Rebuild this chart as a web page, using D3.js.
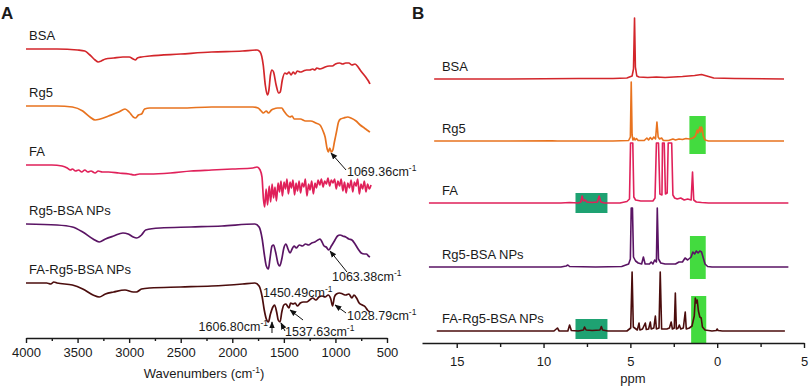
<!DOCTYPE html>
<html><head><meta charset="utf-8">
<script src="https://cdn.jsdelivr.net/npm/d3@7"></script>
<style>body{margin:0;background:#fff}svg{display:block}text{font-family:"Liberation Sans",Arial,sans-serif;fill:#1a1a1a}</style>
</head><body><svg id="c" width="810" height="386"></svg>
<script>
// ---------- Panel A : FT-IR (wavenumber cm-1, relative transmittance a.u.) ----------
const irNames = ["BSA","Rg5","FA","Rg5-BSA NPs","FA-Rg5-BSA NPs"];
const irColors = ["#d3262b","#e8731f","#e0215a","#5a1464","#4b0d0d"];
const irOffsets = [289,232,173,114,55];
const irTicks = [4000,3500,3000,2500,2000,1500,1000,500];
const irMinor = [3750,3250,2750,2250,1750,1250,750];

const irBSA = [[4000,0],[3700,0],[3500,-1],[3430,-2],[3380,-6],[3330,-11],[3300,-13],[3270,-12],[3230,-10],[3150,-9],[3060,-8],[3000,-8],[2960,-10],[2940,-11],[2920,-9],[2880,-8],[2800,-7],[2500,-5],[2200,-3],[1900,-2],[1760,-1],[1730,-3],[1700,-16],[1680,-36],[1660,-46],[1645,-41],[1630,-26],[1615,-21],[1600,-23],[1575,-36],[1550,-44],[1535,-43],[1515,-31],[1490,-24],[1470,-25],[1450,-23],[1430,-26],[1410,-23],[1390,-25],[1370,-22],[1340,-23],[1310,-22],[1280,-21],[1250,-21],[1220,-20],[1200,-21],[1180,-19],[1150,-20],[1120,-19],[1100,-18],[1060,-17],[1030,-17],[1000,-15],[960,-14],[930,-15],[900,-14],[870,-14],[840,-16],[810,-15],[780,-18],[760,-21],[730,-25],[700,-29],[680,-32],[665,-35]];
const irRg5 = [[4000,0],[3700,0],[3550,-1],[3450,-5],[3380,-11],[3330,-14],[3280,-13],[3200,-10],[3100,-6],[3040,-3],[3000,-6],[2960,-11],[2940,-12],[2910,-9],[2880,-8],[2850,-3],[2800,-2],[2500,-2],[2200,-1],[1800,-1],[1750,-2],[1720,-5],[1700,-7],[1670,-5],[1650,-7],[1620,-4],[1600,-3],[1560,-2],[1520,-2],[1500,-5],[1470,-9],[1440,-11],[1420,-10],[1400,-13],[1340,-13],[1290,-15],[1240,-15],[1190,-17],[1150,-19],[1120,-25],[1100,-31],[1080,-43],[1069,-46],[1055,-42],[1040,-46],[1025,-44],[1010,-36],[990,-26],[970,-16],[950,-13],[920,-12],[880,-11],[850,-12],[800,-15],[760,-19],[720,-22],[680,-25],[665,-26]];
const irFA = [[4000,0],[3750,0],[3650,-1],[3600,-3],[3570,-5],[3550,-4],[3520,-6],[3490,-5],[3460,-7],[3430,-5],[3400,-7],[3370,-6],[3330,-8],[3300,-6],[3260,-7],[3200,-7],[3100,-8],[3000,-9],[2950,-10],[2900,-9],[2800,-9],[2600,-8],[2400,-6],[2200,-5],[2000,-4],[1800,-3],[1760,-2],[1730,-5],
 [1712,-12],[1698,-34],[1686,-42],[1672,-24],[1658,-40],[1642,-21],[1628,-37],[1614,-19],[1600,-33],[1586,-22],[1572,-36],[1556,-18],[1542,-27],[1528,-16],[1514,-31],[1498,-17],[1484,-24],[1470,-14],[1456,-29],[1440,-17],[1426,-23],[1412,-15],[1396,-30],[1382,-18],[1368,-26],[1352,-16],[1338,-28],[1322,-18],[1306,-22],[1292,-14],[1276,-31],[1260,-19],[1246,-25],[1230,-16],[1214,-29],[1198,-18],[1184,-23],[1168,-15],[1152,-20],[1136,-14],[1120,-22],[1104,-16],[1088,-19],[1072,-13],[1056,-21],[1040,-15],[1024,-18],[1008,-14],[992,-24],[976,-16],[960,-21],[944,-14],[928,-26],[912,-17],[896,-28],[880,-18],[864,-23],[848,-15],[832,-27],[816,-17],[800,-21],[784,-14],[768,-29],[752,-19],[736,-24],[720,-16],[704,-27],[688,-19],[672,-24],[655,-20]];
const irRg5BSA = [[4000,0],[3700,-1],[3550,-3],[3450,-8],[3350,-15],[3290,-18],[3230,-15],[3150,-12],[3060,-9],[3010,-10],[2960,-13],[2930,-14],[2880,-11],[2840,-6],[2700,-4],[2400,-3],[2100,-2],[1780,0],[1740,-3],[1710,-15],[1690,-30],[1670,-42],[1650,-45],[1635,-35],[1615,-22],[1600,-21],[1580,-28],[1555,-40],[1540,-42],[1520,-35],[1500,-24],[1480,-20],[1460,-25],[1440,-29],[1420,-25],[1400,-22],[1380,-24],[1350,-21],[1320,-22],[1290,-20],[1260,-21],[1230,-19],[1200,-18],[1170,-16],[1150,-15],[1130,-18],[1110,-22],[1090,-23],[1063,-26],[1040,-22],[1010,-17],[980,-12],[955,-11],[930,-12],[900,-13],[870,-15],[840,-16],[810,-20],[780,-25],[750,-29],[720,-30],[700,-30],[680,-32],[665,-33]];
const irFARg5BSA = [[4000,0],[3800,0],[3760,-1],[3730,1],[3700,0],[3550,-2],[3450,-6],[3350,-12],[3290,-14],[3230,-11],[3150,-9],[3040,-7],[2960,-9],[2930,-9],[2880,-6],[2800,-5],[2500,-4],[2200,-3],[1900,-1],[1780,0],[1740,-3],[1710,-14],[1690,-27],[1670,-36],[1650,-39],[1630,-31],[1606,-24],[1590,-22],[1570,-29],[1555,-37],[1537,-39],[1520,-29],[1500,-22],[1480,-21],[1460,-24],[1450,-25],[1435,-20],[1410,-21],[1390,-20],[1370,-23],[1340,-20],[1310,-19],[1280,-19],[1250,-17],[1220,-15],[1190,-17],[1160,-14],[1130,-13],[1100,-14],[1070,-12],[1045,-16],[1028,-23],[1010,-14],[990,-11],[960,-10],[930,-11],[900,-12],[870,-11],[840,-15],[820,-12],[790,-16],[770,-20],[740,-22],[710,-24],[690,-27],[665,-29]];
const irSeries = [irBSA, irRg5, irFA, irRg5BSA, irFARg5BSA];

// annotation arrows: head/tail/text in [wavenumber, a.u.]
const irNotes = [
  {label:"1069.36", head:[1043,185], tail:[897,168], text:[888,162], anchor:"start"},
  {label:"1063.38", head:[1052,87],  tail:[888,66],  text:[1033,57], anchor:"start"},
  {label:"1450.49", head:[1440,28],  tail:[1314,18], text:[1702,41], anchor:"start"},
  {label:"1606.80", head:[1615,16],  tail:[1615,5],  text:[1654,7],  anchor:"end"},
  {label:"1537.63", head:[1528,15],  tail:[1489,7],  text:[1489,2],  anchor:"start"},
  {label:"1028.79", head:[1004,33],  tail:[897,25],  text:[888,18],  anchor:"start"}
];

// ---------- Panel B : 1H NMR (ppm, relative intensity a.u.) ----------
const nmrNames = ["BSA","Rg5","FA","Rg5-BSA NPs","FA-Rg5-BSA NPs"];
const nmrColors = ["#d3262b","#e8731f","#e0215a","#5a1464","#4b0d0d"];
const nmrOffsets = [264,202,140,76,12];
const nmrTicks = [15,10,5,0,-5];
const nmrMinor = [12.5,7.5,2.5,-2.5];

const nmrBSA = [[16.3,0],[12,0],[8,0.5],[6,0.5],[5.2,1],[4.9,3],[4.82,10],[4.76,61],[4.71,12],[4.63,3],[4.5,2],[4.0,1.5],[3.5,2],[3.0,1.5],[2.0,2.5],[1.3,3.5],[0.9,4.5],[0.6,3],[0.2,1],[-1,0.5],[-3.85,0]];
const nmrRg5 = [[16.3,0],[12,0],[9.5,0.3],[9.2,0],[6,0],[5.1,0.5],[5.0,4],[4.95,59],[4.9,6],[4.85,1],[4.78,3],[4.73,1],[4.65,2.5],[4.55,0.5],[4.2,0.5],[4.05,3],[3.95,1],[3.85,3.5],[3.75,1.5],[3.65,4],[3.55,2],[3.47,19],[3.4,4],[3.32,2],[3.2,3],[3.1,0.5],[2.8,0.5],[2.55,2],[2.4,1],[2.2,2],[2.0,1.5],[1.8,2.5],[1.6,2],[1.4,3],[1.25,5],[1.15,11],[1.1,8],[1.0,14],[0.95,9],[0.9,14],[0.85,11],[0.8,5],[0.7,1],[0.5,0],[-3.85,0]];
const nmrFA = [[16.6,0],[12,0],[9,0],[8.5,0.5],[8.0,0],[7.85,1],[7.78,7],[7.7,2],[7.6,3],[7.5,1],[7.2,0.5],[6.9,1],[6.8,7],[6.7,1],[6.5,0],[5.6,0],[5.2,1.5],[5.05,4],[4.99,60],[4.86,60],[4.8,6],[4.7,3],[4.4,2],[4.0,2],[3.7,2],[3.58,5],[3.5,60],[3.38,60],[3.3,9],[3.18,8],[3.15,60],[3.05,60],[2.98,9],[2.88,10],[2.82,60],[2.62,60],[2.55,8],[2.45,5],[2.3,4],[2.1,5],[1.9,3],[1.7,4],[1.5,3],[1.42,31],[1.35,3],[1.2,1],[0.9,0.5],[0.5,0],[-4.1,0]];
const nmrRg5BSA = [[16.6,0],[12,0],[9,0],[8.7,1],[8.6,2],[8.5,0.5],[7,0],[5.5,0.5],[5.1,3],[5.0,8],[4.95,59],[4.88,59],[4.82,10],[4.7,6],[4.55,4],[4.35,3],[4.25,10],[4.15,3],[3.9,3],[3.8,5],[3.7,3],[3.6,7],[3.5,5],[3.45,59],[3.38,8],[3.25,4],[3.0,3],[2.7,3],[2.4,3],[2.2,5],[2.0,5],[1.85,9],[1.7,7],[1.5,10],[1.4,15],[1.3,13],[1.2,16],[1.1,14],[1.0,16],[0.9,15],[0.8,9],[0.7,3],[0.55,0.5],[0.3,0],[-4.1,0]];
const nmrFARg5BSA = [[16.15,0],[12,0],[9.4,0],[9.2,3],[9.1,0],[8.6,0],[8.5,6],[8.4,0.5],[8.0,0],[7.7,1],[7.64,4],[7.55,1],[7.2,0.5],[6.75,1],[6.67,4.5],[6.6,1],[6.3,0],[5.2,0],[4.98,3],[4.9,59],[4.83,4],[4.6,1],[4.5,8],[4.45,1],[4.3,2],[4.14,8],[4.08,1.5],[3.95,2],[3.85,9],[3.8,2],[3.65,3],[3.56,15],[3.5,2],[3.35,3],[3.28,59],[3.2,2],[2.9,2],[2.75,3],[2.65,9],[2.58,2],[2.47,3],[2.41,38],[2.35,2],[2.25,3],[2.18,6],[2.1,2],[1.95,3],[1.84,19],[1.78,2],[1.6,3],[1.45,5],[1.32,15],[1.26,33],[1.2,28],[1.15,31],[1.08,20],[1.0,14],[0.92,13],[0.85,4],[0.7,1],[0.3,0],[0.05,0.5],[0,2],[-0.05,0.5],[-0.3,0],[-3.9,0]];
const nmrSeries = [nmrBSA, nmrRg5, nmrFA, nmrRg5BSA, nmrFARg5BSA];

// highlighted regions: series index, ppm range, a.u. range relative to trace, kind
const nmrBoxes = [
  {s:1, from:1.6, to:0.66, lo:-13, hi:25, kind:"light"},
  {s:2, from:8.16, to:6.32, lo:-10, hi:10, kind:"dark"},
  {s:3, from:1.57, to:0.66, lo:-12, hi:31, kind:"light"},
  {s:4, from:8.16, to:6.32, lo:-8, hi:12, kind:"dark"},
  {s:4, from:1.5, to:0.63, lo:-12, hi:35, kind:"light"}
];
const boxColors = {light:"#43db3f", dark:"#1ea272"};

// ---------- drawing ----------
const svg = d3.select("#c");
svg.append("rect").attr("width",810).attr("height",386).attr("fill","#fff");

svg.append("defs").append("marker").attr("id","ah").attr("viewBox","0 0 10 10")
  .attr("refX",9).attr("refY",5).attr("markerWidth",7).attr("markerHeight",7)
  .attr("orient","auto-start-reverse").attr("markerUnits","userSpaceOnUse")
  .append("path").attr("d","M0,1 L10,5 L0,9 z").attr("fill","#111");

// Panel A
const xA = d3.scaleLinear().domain([4000,500]).range([26,387]);
const yA = d3.scaleLinear().domain([0,330]).range([338,8]);
const gA = svg.append("g");
const axA = gA.append("g").attr("transform","translate(0,338)")
  .call(d3.axisBottom(xA).tickValues(irTicks).tickSize(5).tickSizeOuter(0).tickPadding(5).tickFormat(d3.format("d")));
gA.append("g").attr("transform","translate(0,338)")
  .call(d3.axisBottom(xA).tickValues(irMinor).tickSize(3).tickFormat("").tickSizeOuter(0))
  .select(".domain").remove();
axA.selectAll("text").attr("font-size",13).attr("font-family","Liberation Sans, Arial").attr("fill","#1a1a1a");
gA.selectAll(".domain,.tick line").attr("stroke","#1a1a1a").attr("stroke-width",1.4);
const tA = gA.append("text").attr("x",204).attr("y",378).attr("text-anchor","middle").attr("font-size",13);
tA.append("tspan").text("Wavenumbers (cm");
tA.append("tspan").attr("font-size",8.5).attr("dy",-5).text("-1");
tA.append("tspan").attr("dy",5).text(")");

irSeries.forEach((data,i)=>{
  const off = irOffsets[i];
  const line = d3.line().x(d=>xA(d[0])).y(d=>yA(off+d[1])).curve(d3.curveMonotoneX);
  gA.append("path").datum(data).attr("d",line).attr("fill","none")
    .attr("stroke",irColors[i]).attr("stroke-width",1.7).attr("stroke-linejoin","round");
  gA.append("text").attr("x",xA(3970)).attr("y",yA(off)-9).attr("font-size",13).text(irNames[i]);
});

irNotes.forEach(n=>{
  gA.append("line").attr("x1",xA(n.tail[0])).attr("y1",yA(n.tail[1]))
    .attr("x2",xA(n.head[0])).attr("y2",yA(n.head[1]))
    .attr("stroke","#111").attr("stroke-width",1).attr("marker-end","url(#ah)");
  const t = gA.append("text").attr("x",xA(n.text[0])).attr("y",yA(n.text[1]))
    .attr("font-size",12.5).attr("text-anchor",n.anchor);
  t.append("tspan").text(n.label+"cm");
  t.append("tspan").attr("font-size",8.5).attr("dy",-5).text("-1");
});

svg.append("text").attr("x",1).attr("y",19).attr("font-size",17).attr("font-weight","bold").text("A");

// Panel B
const xB = d3.scaleLinear().domain([17,-5]).range([422,804]);
const yB = d3.scaleLinear().domain([0,335]).range([343,8]);
const gB = svg.append("g");
nmrBoxes.forEach(b=>{
  const off = nmrOffsets[b.s];
  gB.append("rect").attr("x",xB(b.from)).attr("width",xB(b.to)-xB(b.from))
    .attr("y",yB(off+b.hi)).attr("height",yB(off+b.lo)-yB(off+b.hi))
    .attr("fill",boxColors[b.kind]);
});
const axB = gB.append("g").attr("transform","translate(0,343)")
  .call(d3.axisBottom(xB).tickValues(nmrTicks).tickSize(5).tickSizeOuter(0).tickPadding(9).tickFormat(d=>String(Math.abs(d))));
gB.append("g").attr("transform","translate(0,343)")
  .call(d3.axisBottom(xB).tickValues(nmrMinor).tickSize(4).tickFormat("").tickSizeOuter(0))
  .select(".domain").remove();
axB.selectAll("text").attr("font-size",13).attr("font-family","Liberation Sans, Arial").attr("fill","#1a1a1a");
gB.selectAll(".domain,.tick line").attr("stroke","#1a1a1a").attr("stroke-width",1.4);
gB.append("text").attr("x",633).attr("y",383).attr("text-anchor","middle").attr("font-size",13).text("ppm");

nmrSeries.forEach((data,i)=>{
  const off = nmrOffsets[i];
  const line = d3.line().x(d=>xB(d[0])).y(d=>yB(off+d[1]));
  gB.append("path").datum(data).attr("d",line).attr("fill","none")
    .attr("stroke",nmrColors[i]).attr("stroke-width",1.6).attr("stroke-linejoin","round");
  gB.append("text").attr("x",xB(15.85)).attr("y",yB(off)-8).attr("font-size",13).text(nmrNames[i]);
});

svg.append("text").attr("x",412).attr("y",19).attr("font-size",17).attr("font-weight","bold").text("B");
</script></body></html>
